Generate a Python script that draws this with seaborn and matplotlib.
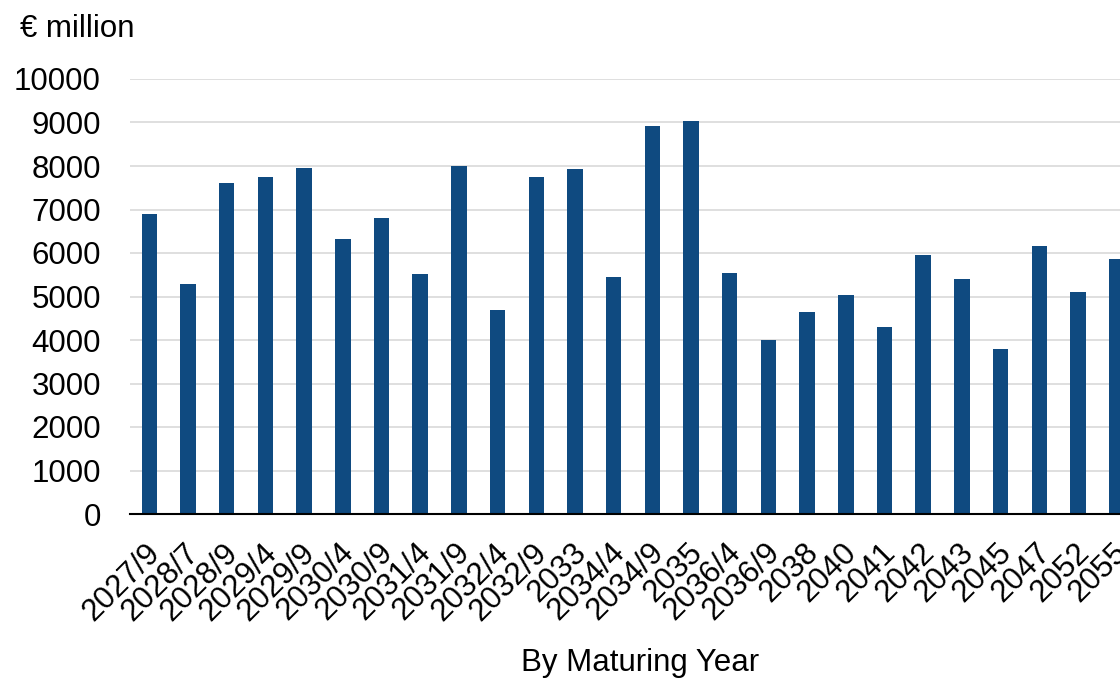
import matplotlib
matplotlib.use("Agg")
import matplotlib.pyplot as plt
import matplotlib.transforms as mtransforms
import seaborn as sns
import pandas as pd

# data (EUR million by maturity)
maturities = ["2027/9", "2028/7", "2028/9", "2029/4", "2029/9", "2030/4", "2030/9",
              "2031/4", "2031/9", "2032/4", "2032/9", "2033", "2034/4", "2034/9",
              "2035", "2036/4", "2036/9", "2038", "2040", "2041", "2042", "2043",
              "2045", "2047", "2052", "2055"]
amounts = [6900, 5290, 7610, 7750, 7950, 6330, 6800,
           5520, 7990, 4680, 7750, 7920, 5440, 8920,
           9040, 5530, 3990, 4650, 5030, 4310, 5950, 5400,
           3790, 6150, 5100, 5860]
y_ticks = list(range(0, 10001, 1000))

df = pd.DataFrame({"maturity": maturities, "amount": amounts})

sns.set_style("white")
plt.rcParams["font.family"] = ["Liberation Sans", "DejaVu Sans"]
plt.rcParams["text.color"] = "black"
plt.rcParams["xtick.color"] = "black"
plt.rcParams["ytick.color"] = "black"
FS = 22.5

fig = plt.figure(figsize=(11.2, 6.8), dpi=100)
ax = fig.add_axes([130 / 1120, 166 / 680, 1006 / 1120, 435 / 680])

sns.barplot(data=df, x="maturity", y="amount", color="#0F4A80",
            width=0.4, linewidth=0, saturation=1, ax=ax)

ax.set_xlim(-0.5, len(maturities) - 0.5)
ax.set_ylim(0, 10000)
ax.set_yticks(y_ticks)
ax.set_yticklabels([str(t) for t in y_ticks], fontsize=FS)
ax.yaxis.grid(True, color="#d9d9d9", linewidth=1.2)
ax.set_axisbelow(True)
ax.tick_params(axis="y", length=0, pad=21)
ax.tick_params(axis="x", length=0, pad=17)
shift = mtransforms.ScaledTranslation(-4 / 100, 0, fig.dpi_scale_trans)
for lbl in ax.get_xticklabels():
    lbl.set_rotation(45)
    lbl.set_ha("right")
    lbl.set_va("top")
    lbl.set_rotation_mode("anchor")
    lbl.set_fontsize(FS)
    lbl.set_transform(lbl.get_transform() + shift)

for side in ["top", "right", "left"]:
    ax.spines[side].set_visible(False)
ax.spines["bottom"].set_color("black")
ax.spines["bottom"].set_linewidth(1.5)

ax.set_ylabel("")
ax.set_xlabel("")
fig.text(20 / 1120, 1 - 37 / 680, "€ million", fontsize=FS, va="baseline", ha="left")
fig.text(640 / 1120, 1 - 671 / 680, "By Maturing Year", fontsize=FS,
         va="baseline", ha="center")

fig.savefig("out.png", dpi=100)
